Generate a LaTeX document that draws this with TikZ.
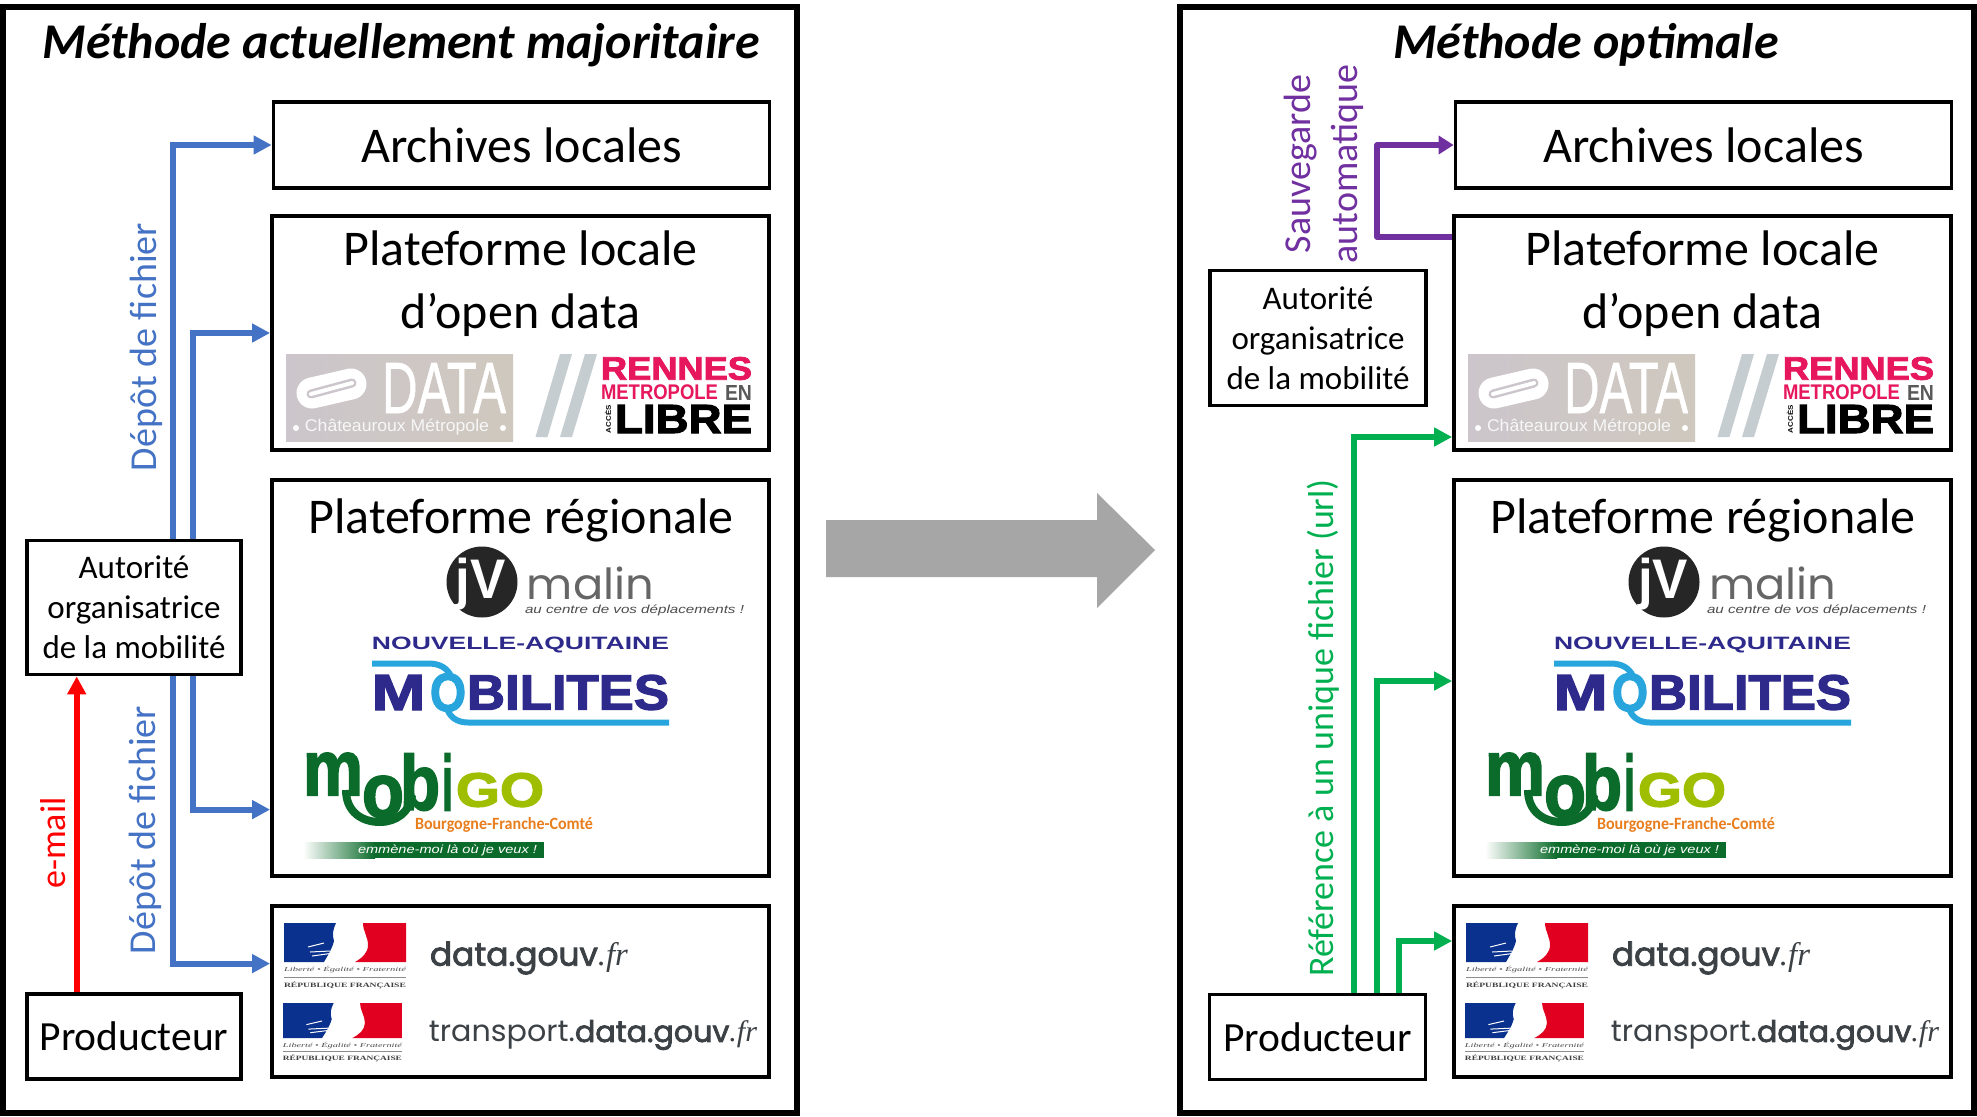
\documentclass[tikz,border=0pt]{standalone}
\usepackage{fontspec}
\usepackage{graphicx}
\setmainfont{Carlito}
\newfontfamily\lsans{Liberation Sans}
\newfontfamily\lserif{Liberation Serif}
\newfontfamily\popf{Poppins}
\newfontfamily\heavyf[FakeBold=2.5]{Liberation Sans Bold}
\newfontfamily\semif[FakeBold=1]{Liberation Sans}
\newfontfamily\popm[FakeBold=2.5]{Poppins}
\usetikzlibrary{arrows.meta}
\definecolor{bluearr}{HTML}{4472C4}
\definecolor{greenarr}{HTML}{00B050}
\definecolor{purplearr}{HTML}{7030A0}
\definecolor{grayarr}{HTML}{A6A6A6}
\definecolor{rennes}{HTML}{E6175C}
\definecolor{slashg}{HTML}{C6CDD0}
\definecolor{navya}{HTML}{2E2A8C}
\definecolor{cyana}{HTML}{27A5DC}
\definecolor{mgreen}{HTML}{0B6B2B}
\definecolor{mlime}{HTML}{A0BE00}
\definecolor{morange}{HTML}{E87E1E}
\definecolor{rfblue}{HTML}{0A318E}
\definecolor{rfred}{HTML}{E1001F}
\definecolor{dgov}{HTML}{3C4146}
\definecolor{datal}{HTML}{CCC6CC}
\definecolor{datar}{HTML}{CFC8BE}
\tikzset{
  outerbox/.style={draw=black,line width=6pt,fill=white,inner sep=0pt},
  boxs/.style={draw=black,line width=3.8pt,fill=white,inner sep=0pt,align=center},
  big/.style={font=\fontsize{50}{63}\selectfont,align=center,inner sep=0pt},
  mid/.style={font=\fontsize{33}{40}\selectfont},
  prod/.style={font=\fontsize{41.5}{46}\selectfont},
  ttl/.style={font=\fontsize{50}{56}\selectfont\bfseries\itshape,inner sep=0pt},
  lab/.style={font=\fontsize{36}{47}\selectfont,rotate=90,inner sep=0pt,align=center},
  labb/.style={font=\fontsize{38}{47}\selectfont,rotate=90,inner sep=0pt,align=center},
  conn/.style={line width=6pt,-{Triangle[length=18pt,width=18pt]}},
  bluea/.style={conn,draw=bluearr},
  greena/.style={conn,draw=greenarr},
  reda/.style={conn,draw=red},
  purplea/.style={line width=5.5pt,draw=purplearr,line join=round,-{Triangle[length=15pt,width=18pt]}}
}
\newcommand\ft[7]{\node[inner sep=0pt,text=#6] (#1) at (#2,#3) {\resizebox*{#4pt}{#5pt}{#7}};}
\newcommand\rfl[6]{%
  \begin{scope}[shift={(#2,#3)},xscale=#4,yscale=#5]
    \fill[rfblue] (0,0) -- (52,0) .. controls (49,6) and (48,12) .. (50,18) .. controls (48,26) and (44,32) .. (40,39) -- (0,39) -- cycle;
    \fill[rfred] (79,0) -- (122,0) -- (122,39) -- (71,39) .. controls (78,35) and (84,30) .. (84,22) .. controls (84,14) and (79,8) .. (79,0) -- cycle;
    \draw[white,line width=1pt] (24,24) -- (40,20) (26,29) -- (46,28) (28,33) -- (50,30);
    \fill[black!45] (0,53.6) rectangle (122,54.6);
    \ft{#1lib}{61}{47}{#6}{6.5}{black!70}{\lserif\itshape Liberté • Égalité • Fraternité}
    \ft{#1rep}{61}{62}{#6}{7}{black!75}{\lserif\bfseries RÉPUBLIQUE FRANÇAISE}
  \end{scope}}
\newcommand\panelcommon{%
  \node[boxs,minimum width=496pt,minimum height=86pt,big] (arch) at (521.5,145) {Archives locales};
  \node[boxs,minimum width=497pt,minimum height=234pt] (loc) at (520.5,333) {};
  \node[big] (loct) at (520.5,284) {Plateforme locale\\d’open data};
  \node[boxs,minimum width=497pt,minimum height=396pt] (reg) at (520.5,678) {};
  \node[big] (regt) at (521,520) {Plateforme régionale};
  \node[boxs,minimum width=497pt,minimum height=171pt] (nat) at (520.5,991.5) {};
  % Chateauroux data logo
  \shade[left color=datal,right color=datar] (286,354) rectangle (513,441);
  \draw[white,line width=31pt,line cap=round] (312,393) -- (351,384);
  \draw[datal,line width=9pt,line cap=round] (311,394) -- (352,383);
  \draw[white,line width=4pt,line cap=round] (311,394) -- (352,383);
  \ft{datat}{444}{388}{124}{50}{white}{\semif DATA}
  \ft{chat}{397}{427}{184}{16}{black!3}{\lsans Châteauroux Métropole}
  \fill[white] (296,428) circle (3pt) (503,428) circle (3pt);
  % Rennes logo
  \fill[slashg] (560,354) -- (572,354) -- (547.5,437) -- (535.5,437) -- cycle;
  \fill[slashg] (585,354) -- (597,354) -- (572,437) -- (560,437) -- cycle;
  \ft{renn}{676.5}{368.5}{151}{23}{rennes}{\heavyf RENNES}
  \ft{metr}{659.5}{392.5}{117}{15}{rennes}{\lsans\bfseries METROPOLE}
  \ft{enn}{738.5}{392.5}{27}{15}{black!65}{\lsans\bfseries EN}
  \ft{libr}{683.5}{419}{137}{28}{black}{\heavyf LIBRE}
  \node[inner sep=0pt,rotate=90] (acce) at (608,419) {\resizebox*{28pt}{6pt}{\lsans\bfseries ACCÈS}};
  % JV Malin logo
  \node[circle,fill=black!85,minimum size=71pt,inner sep=0pt] (jvc) at (482,582) {};
  \ft{jvt}{481}{584}{50}{52}{white}{\lsans\bfseries jV}
  \ft{malin}{590.5}{583.5}{127}{33}{black!60}{\popf malin}
  \ft{centre}{634.5}{610}{219}{11}{black!70}{\lsans\itshape au centre de vos déplacements !}
  % Nouvelle-Aquitaine logo
  \ft{nouv}{520.5}{645}{297}{16}{navya}{\lsans\bfseries NOUVELLE-AQUITAINE}
  \draw[cyana,line width=6pt] (372,663.5) -- (428,663.5) .. controls (440,663.5) and (447,668) .. (451,676);
  \draw[cyana,line width=6pt] (447,708) .. controls (449,716) and (456,722.5) .. (468,722.5) -- (669,722.5);
  \ft{moM}{398.5}{692.5}{54}{35}{navya}{\heavyf M}
  \ft{moO}{448}{692.5}{36}{38}{cyana}{\heavyf O}
  \ft{moB}{568}{692.5}{202}{35}{navya}{\heavyf BILITES}
  % Mobigo logo
  \draw[mgreen,line width=8pt] (346,790) .. controls (346,812) and (362,822) .. (380,822) .. controls (396,822) and (410,812) .. (412,795);
  \ft{mobm}{333}{774}{60}{42}{mgreen}{\heavyf m}
  \ft{mobo}{383}{797}{42}{42}{mgreen}{\heavyf o}
  \ft{mobb}{420}{782}{40}{57}{mgreen}{\heavyf b}
  \ft{mobi}{447.5}{782}{11}{57}{mgreen}{\heavyf i}
  \ft{mobg}{500}{790}{88}{34}{mlime}{\heavyf GO}
  \ft{bfc}{504}{825}{178}{15}{morange}{\bfseries Bourgogne-Franche-Comté}
  \shade[left color=white,right color=mgreen] (303,842) rectangle (375,858);
  \fill[mgreen] (375,842) rectangle (544,858);
  \ft{emm}{447.5}{850}{179}{11}{white}{\lsans\itshape emmène-moi là où je veux !}
  % French state logos and national platforms
  \rfl{rfa}{284}{923}{1}{1}{122}
  \rfl{rfb}{283}{1003}{.975}{.9}{119}
  \ft{dg}{529}{958}{198}{33}{dgov}{\popm data.gouv{\lserif\itshape .fr}}
  \ft{tdg}{593}{1035}{328}{30}{dgov}{\popf transport.{\popm data.gouv}{\lserif\itshape .fr}}
}
\begin{document}
\begin{tikzpicture}[x=1pt,y=-1pt]
\useasboundingbox (0,0) rectangle (1977,1116);
\fill[white] (0,0) rectangle (1977,1116);
% outer frames
\node[outerbox,minimum width=794pt,minimum height=1105.5pt] (lo) at (400,560.25) {};
\node[outerbox,minimum width=794pt,minimum height=1105.5pt] (ro) at (1577,560.25) {};
\node[ttl] (ltitle) at (401,45) {Méthode actuellement majoritaire};
\node[ttl] (rtitle) at (1586,45) {Méthode optimale};
% big arrow
\fill[grayarr] (826,520) -- (1097,520) -- (1097,493) -- (1155,550) -- (1097,608) -- (1097,577) -- (826,577) -- cycle;
% panels
\begin{scope}[name prefix=l-]
  \panelcommon
  \node[boxs,minimum width=214pt,minimum height=134pt,mid] (aut) at (134,607.5) {Autorité\\organisatrice\\de la mobilité};
  \node[boxs,minimum width=214pt,minimum height=85pt,prod] (pro) at (134,1036.5) {Producteur};
\end{scope}
\begin{scope}[shift={(1182,0)},name prefix=r-]
  \panelcommon
\end{scope}
\node[boxs,minimum width=216pt,minimum height=135pt,mid] (r-aut) at (1318,338) {Autorité\\organisatrice\\de la mobilité};
\node[boxs,minimum width=216pt,minimum height=85pt,prod] (r-pro) at (1317.5,1037) {Producteur};
% rails and levels for left connectors
\coordinate (ra) at (172.7,0);
\coordinate (rb) at (193,0);
\coordinate (rr) at (76.7,0);
\coordinate (yb) at (0,809.6);
\coordinate (yc) at (0,963.6);
\draw[bluea] (l-aut.north -| ra) |- (l-arch.west);
\draw[bluea] (l-aut.north -| rb) |- (l-loc.west);
\draw[bluea] (l-aut.south -| rb) |- (l-reg.west |- yb);
\draw[bluea] (l-aut.south -| ra) |- (l-nat.west |- yc);
\draw[reda] (l-pro.north -| rr) -- (l-aut.south -| rr);
\node[lab,text=red] (lmail) at (53,843) {e-mail};
\node[labb,text=bluearr] (ldep1) at (146,347) {Dépôt de fichier};
\node[labb,text=bluearr] (ldep2) at (145,830) {Dépôt de fichier};
% right connectors
\coordinate (g1) at (1354,0);
\coordinate (g2) at (1377,0);
\coordinate (g3) at (1399,0);
\coordinate (yg1) at (0,437);
\coordinate (yg2) at (0,681);
\coordinate (yg3) at (0,941);
\coordinate (yp) at (0,237);
\draw[greena] (r-pro.north -| g1) |- (r-loc.west |- yg1);
\draw[greena] (r-pro.north -| g2) |- (r-reg.west |- yg2);
\draw[greena] (r-pro.north -| g3) |- (r-nat.west |- yg3);
\draw[purplea] (r-loc.west |- yp) -| (g2 |- r-arch.west) -- (r-arch.west);
\node[lab,text=greenarr] (rref) at (1323,728) {Référence à un unique fichier (url)};
\node[labb,text=purplearr] (rsauv) at (1323.5,164) {Sauvegarde\\automatique};
\end{tikzpicture}
\end{document}
